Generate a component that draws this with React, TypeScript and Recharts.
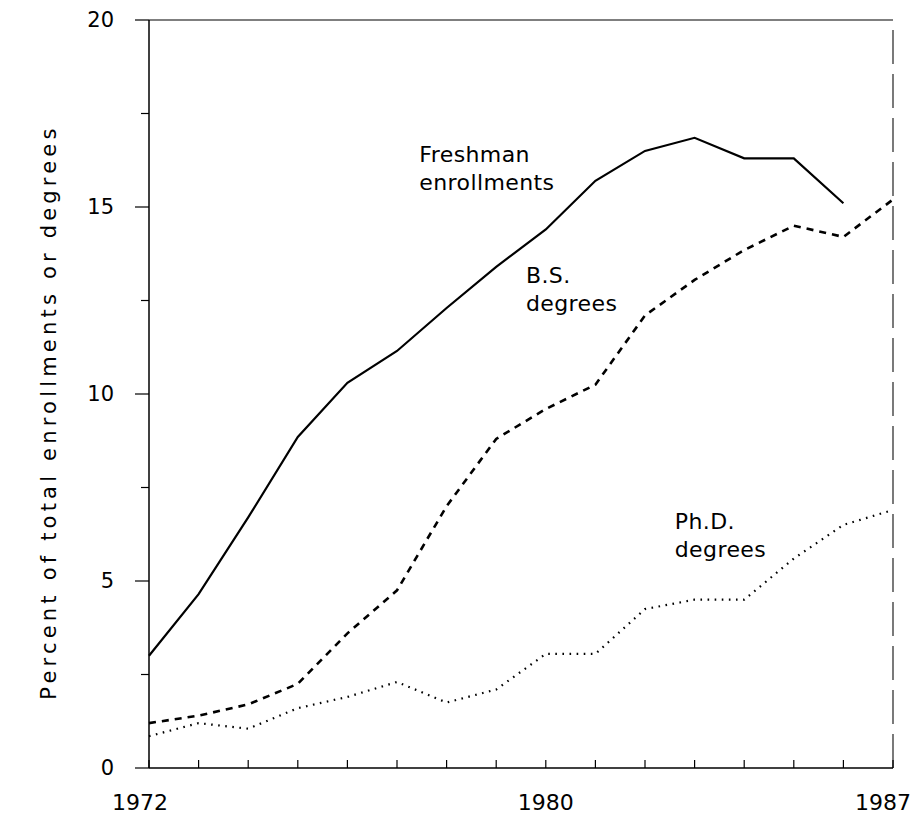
import React from "react";
import {
  LineChart,
  Line,
  XAxis,
  YAxis,
  ReferenceLine,
  ReferenceDot
} from "recharts";

const years = [1972, 1973, 1974, 1975, 1976, 1977, 1978, 1979, 1980, 1981, 1982, 1983, 1984, 1985, 1986, 1987];
const freshman = [3.0, 4.65, 6.7, 8.85, 10.3, 11.15, 12.3, 13.4, 14.4, 15.7, 16.5, 16.85, 16.3, 16.3, 15.1, null];
const bsDegrees = [1.2, 1.4, 1.7, 2.25, 3.6, 4.75, 7.0, 8.8, 9.6, 10.25, 12.1, 13.05, 13.85, 14.5, 14.2, 15.2];
const phdDegrees = [0.85, 1.2, 1.05, 1.6, 1.9, 2.3, 1.75, 2.1, 3.05, 3.05, 4.25, 4.5, 4.5, 5.6, 6.5, 6.9];

const yTicks = [0, 2.5, 5, 7.5, 10, 12.5, 15, 17.5, 20];
const yLabelled = [0, 5, 10, 15, 20];
const xLabels: Record<number, string> = { 1972: "1972", 1980: "1980", 1987: "1987" };
const yTitle = "Percent of total enrollments or degrees";

const FONT = "'DejaVu Sans', sans-serif";

const data = years.map((year, i) => ({
  year,
  freshman: freshman[i],
  bs: bsDegrees[i],
  phd: phdDegrees[i]
}));

function XTick(props: any) {
  const { x, y, payload } = props;
  const text = xLabels[payload.value];
  const last = payload.value === 1987;
  const dx = payload.value === 1972 ? -9 : last ? 18 : 0;
  return (
    <g>
      <line x1={x} x2={x} y1={y} y2={y - 8} stroke="#000" strokeWidth={1.2} />
      {text && (
        <text
          x={x + dx}
          y={y + 42}
          textAnchor={last ? "end" : "middle"}
          fontSize={22}
          fontFamily={FONT}
          fill="#000"
        >
          {text}
        </text>
      )}
    </g>
  );
}

function YTick(props: any) {
  const { x, y, payload } = props;
  const major = yLabelled.includes(payload.value);
  return (
    <g>
      <line x1={x - (major ? 14 : 8)} x2={x} y1={y} y2={y} stroke="#000" strokeWidth={1.2} />
      {major && (
        <text x={x - 35} y={y + 7} textAnchor="end" fontSize={21} fontFamily={FONT} fill="#000">
          {payload.value}
        </text>
      )}
    </g>
  );
}

function twoLines(first: string, second: string) {
  return (props: any) => {
    const vb = props.viewBox || {};
    const x = vb.x ?? 0;
    const y = vb.y ?? 0;
    return (
      <text x={x} y={y} fontSize={22} letterSpacing={0.4} fontFamily={FONT} fill="#000">
        <tspan x={x} dy={0}>{first}</tspan>
        <tspan x={x} dy={28}>{second}</tspan>
      </text>
    );
  };
}

export default function App() {
  return (
    <div style={{ width: 904, height: 808, background: "#fff" }}>
      <LineChart
        width={904}
        height={808}
        data={data}
        margin={{ top: 12, right: 19, bottom: 0, left: 0 }}
      >
        <XAxis
          dataKey="year"
          type="number"
          domain={[1972, 1987]}
          ticks={years}
          height={48}
          tickSize={0}
          tickMargin={0}
          tick={<XTick />}
          axisLine={{ stroke: "#000", strokeWidth: 1.5 }}
          interval={0}
        />
        <YAxis
          type="number"
          domain={[0, 20]}
          ticks={yTicks}
          width={141}
          tickSize={0}
          tickMargin={0}
          tick={<YTick />}
          axisLine={{ stroke: "#000", strokeWidth: 1.5 }}
          interval={0}
          label={{
            value: yTitle,
            content: (p: any) => {
              const vb = p.viewBox || {};
              const cy = (vb.y ?? 0) + (vb.height ?? 0) / 2 + 18;
              return (
                <text
                  x={42}
                  y={cy}
                  transform={`rotate(-90, 42, ${cy})`}
                  textAnchor="middle"
                  dominantBaseline="middle"
                  fontSize={21}
                  letterSpacing={4.2}
                  fontFamily={FONT}
                  fill="#000"
                >
                  {yTitle}
                </text>
              );
            }
          }}
        />
        <ReferenceLine y={20} stroke="#000" strokeWidth={1.2} ifOverflow="visible" />
        <ReferenceLine x={1987} stroke="#222" strokeWidth={1.2} strokeDasharray="34 10" ifOverflow="visible" />

        <Line
          type="linear"
          dataKey="freshman"
          stroke="#000"
          strokeWidth={2.2}
          dot={false}
          connectNulls={false}
          isAnimationActive={false}
        />
        <Line
          type="linear"
          dataKey="bs"
          stroke="#000"
          strokeWidth={2.6}
          strokeDasharray="7 6"
          dot={false}
          isAnimationActive={false}
        />
        <Line
          type="linear"
          dataKey="phd"
          stroke="#000"
          strokeWidth={2.2}
          strokeDasharray="1.6 5.5"
          dot={false}
          isAnimationActive={false}
        />

        <ReferenceDot x={1977.45} y={16.2} r={0} fill="none" stroke="none" ifOverflow="visible" label={{ content: twoLines("Freshman", "enrollments") }} />
        <ReferenceDot x={1979.6} y={12.98} r={0} fill="none" stroke="none" ifOverflow="visible" label={{ content: twoLines("B.S.", "degrees") }} />
        <ReferenceDot x={1982.6} y={6.4} r={0} fill="none" stroke="none" ifOverflow="visible" label={{ content: twoLines("Ph.D.", "degrees") }} />
      </LineChart>
    </div>
  );
}
